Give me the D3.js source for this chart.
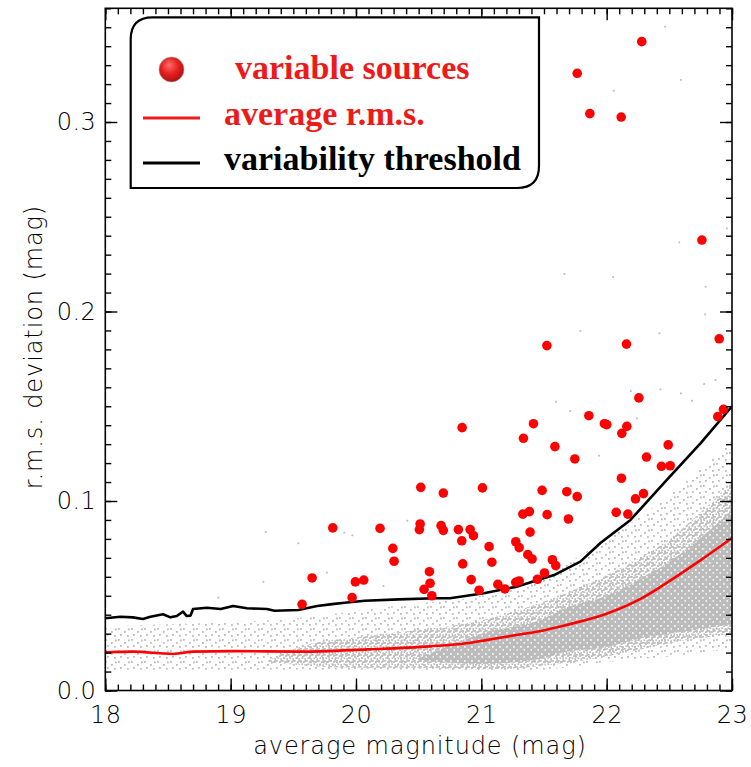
<!DOCTYPE html>
<html>
<head>
<meta charset="utf-8">
<script src="https://cdn.jsdelivr.net/npm/d3@7"></script>
<style>
  body { margin: 0; background: #fff; }
  .tick text { font-family: "DejaVu Sans", sans-serif; font-weight: 200; font-size: 24px; fill: #000; letter-spacing: 0.5px; }
  .lab { font-family: "DejaVu Sans", sans-serif; font-weight: 200; font-size: 24px; letter-spacing: 0.9px; }
</style>
</head>
<body>
<svg id="chart" width="751" height="767"></svg>
<script>
// variable sources (magnitude, rms)
var varMag = [22.28, 21.765, 21.866, 22.116, 22.76, 21.523, 22.158, 22.898, 22.257, 21.858,
  21.416, 21.982, 22.001, 22.161, 22.121, 21.336, 21.587, 22.491, 22.887, 22.932,
  20.847, 21.746, 22.318, 22.437, 22.507, 22.118, 20.517, 20.697, 21.009, 21.485,
  21.682, 21.765, 22.294, 22.23, 21.331, 21.384, 21.525, 21.695, 22.076, 22.169,
  20.512, 20.506, 20.679, 20.697, 20.817, 20.911, 20.937, 20.844, 21.389, 21.062,
  21.275, 21.302, 21.371, 21.405, 21.084, 20.852, 21.567, 21.594, 20.586, 20.591,
  20.543, 20.605, 20.919, 20.982, 21.132, 21.188, 21.275, 21.302, 21.448, 21.504,
  19.815, 20.192, 20.294, 20.304, 19.65, 19.995, 20.062, 19.969, 19.57];
var varRms = [0.3424, 0.3257, 0.3044, 0.3026, 0.2377, 0.182, 0.1828, 0.1856, 0.1544, 0.145,
  0.1408, 0.1408, 0.1403, 0.1394, 0.1357, 0.1331, 0.1287, 0.1296, 0.1445, 0.1484,
  0.1387, 0.1222, 0.1232, 0.1183, 0.1186, 0.112, 0.1072, 0.1042, 0.1069, 0.1056,
  0.1049, 0.1023, 0.1039, 0.1011, 0.0931, 0.0944, 0.0928, 0.0905, 0.094, 0.0931,
  0.0879, 0.0849, 0.087, 0.0845, 0.0849, 0.0849, 0.0817, 0.079, 0.0836, 0.0759,
  0.0785, 0.0754, 0.0717, 0.0694, 0.0677, 0.0668, 0.069, 0.0659, 0.0627, 0.0566,
  0.0534, 0.05, 0.0585, 0.0529, 0.056, 0.0536, 0.0571, 0.0578, 0.0587, 0.062,
  0.0858, 0.0856, 0.075, 0.0682, 0.0594, 0.0573, 0.0583, 0.049, 0.0455];

// average r.m.s. curve
var avgMag = [18.0, 18.22, 18.54, 18.7, 19.02, 19.55, 20.09, 20.59, 20.88, 21.04, 21.28,
  21.44, 21.68, 22.0, 22.27, 22.5, 22.75, 23.0];
var avgRms = [0.0202, 0.0205, 0.0193, 0.0205, 0.0208, 0.0205, 0.0217, 0.0233, 0.0249, 0.0266, 0.0293,
  0.031, 0.0346, 0.0405, 0.0483, 0.0577, 0.0688, 0.0805];

// variability threshold curve
var thrMag = [18.0, 18.12, 18.22, 18.3, 18.36, 18.46, 18.52, 18.57, 18.62, 18.65, 18.68, 18.7,
  18.81, 18.92, 19.02, 19.13, 19.29, 19.35, 19.54, 19.69, 19.81, 19.91, 20.07, 20.34,
  20.63, 20.75, 21.02, 21.28, 21.58, 21.79, 21.95, 22.19, 22.48, 22.75, 23.0];
var thrRms = [0.0381, 0.0389, 0.0386, 0.0377, 0.0389, 0.0402, 0.0386, 0.0393, 0.0416, 0.0393, 0.0395, 0.043,
  0.0437, 0.043, 0.0446, 0.0434, 0.043, 0.0421, 0.0425, 0.0446, 0.0456, 0.0463, 0.0474, 0.0481,
  0.0487, 0.0487, 0.0513, 0.0548, 0.0609, 0.068, 0.0778, 0.09, 0.1111, 0.1305, 0.15];

// spread of all sources, read as envelopes of the grey cloud
var haloMag = [18, 18.5, 19, 19.5, 20, 20.5, 21, 21.5, 22, 22.5, 23];
var haloLow = [0.011, 0.011, 0.011, 0.011, 0.011, 0.011, 0.010, 0.011, 0.015, 0.018, 0.022];
var haloHigh = [0.034, 0.035, 0.036, 0.038, 0.042, 0.046, 0.050, 0.061, 0.080, 0.103, 0.132];
var coreMag = [19.3, 19.6, 20, 20.5, 21, 21.5, 22, 22.5, 23];
var coreLow = [0.015, 0.013, 0.012, 0.012, 0.011, 0.013, 0.018, 0.025, 0.030];
var coreHigh = [0.016, 0.024, 0.028, 0.032, 0.037, 0.047, 0.061, 0.080, 0.110];
var innerMag = [20.5, 21, 21.5, 21.65, 22, 22.3, 22.5, 23];
var innerLow = [0.016, 0.014, 0.017, 0.020, 0.023, 0.028, 0.030, 0.035];
var innerHigh = [0.017, 0.030, 0.038, 0.043, 0.050, 0.060, 0.068, 0.095];

// isolated grey sources
var outMag = [22.467, 22.592, 22.057, 22.946, 22.959, 22.579, 21.663, 22.052, 22.789, 22.786,
  21.791, 22.421, 21.597, 22.429, 19.28, 19.54, 19.907, 19.971, 19.767, 20.41,
  20.219, 19.261, 18.902, 22.193, 22.778, 22.868, 21.709, 21.938, 22.241, 22.68, 22.592];
var outRms = [0.3503, 0.3222, 0.3165, 0.2896, 0.2439, 0.2365, 0.2198, 0.2181, 0.2131, 0.1985,
  0.1897, 0.1885, 0.1524, 0.1589, 0.0836, 0.0777, 0.0833, 0.0819, 0.0622, 0.0896,
  0.0551, 0.0574, 0.049, 0.158, 0.1617, 0.1639, 0.1475, 0.1239, 0.1436, 0.1529, 0.1568];

var xTicks = [18, 19, 20, 21, 22, 23];
var yTicks = [0.0, 0.1, 0.2, 0.3];
var legendLabels = ["variable sources", "average r.m.s.", "variability threshold"];

var pLeft = 105.3, pRight = 732, pTop = 8.3, pBottom = 690.5;
var grey = "#bcbcbc";

var x = d3.scaleLinear().domain([18, 23]).range([pLeft, pRight]);
var y = d3.scaleLinear().domain([0, 0.36]).range([pBottom, pTop]);

var svg = d3.select("#chart");
var defs = svg.append("defs");

defs.append("clipPath").attr("id", "plot")
  .append("rect").attr("x", pLeft).attr("y", pTop)
  .attr("width", pRight - pLeft).attr("height", pBottom - pTop);

// speckle textures for the grey cloud
function dotPattern(id, w, h, pts, bg, dot) {
  var p = defs.append("pattern").attr("id", id)
    .attr("patternUnits", "userSpaceOnUse").attr("width", w).attr("height", h);
  if (bg) p.append("rect").attr("width", w).attr("height", h).attr("fill", bg);
  pts.forEach(function(d) {
    p.append("rect").attr("x", d[0]).attr("y", d[1])
      .attr("width", 1.8).attr("height", 1.8).attr("fill", dot);
  });
}
dotPattern("halo", 13, 11, [[1, 1], [7, 4], [3, 7], [10, 8], [11, 1.5]], null, grey);
dotPattern("core", 6, 6, [[0, 0], [3, 1.2], [1.4, 3.3], [4.4, 4.2], [4.2, 0.2]], null, grey);
dotPattern("inner", 7, 7, [[2, 2], [5.5, 5]], grey, "#f2f2f2");

var g = svg.append("g").attr("clip-path", "url(#plot)");

function band(mag, lo, hi, fill) {
  var rows = mag.map(function(m, i) { return [m, lo[i], hi[i]]; });
  g.append("path").datum(rows)
    .attr("fill", fill)
    .attr("d", d3.area()
      .curve(d3.curveMonotoneX)
      .x(function(d) { return x(d[0]); })
      .y0(function(d) { return y(d[1]); })
      .y1(function(d) { return y(d[2]); }));
}
band(haloMag, haloLow, haloHigh, "url(#halo)");
band(coreMag, coreLow, coreHigh, "url(#core)");
band(innerMag, innerLow, innerHigh, "url(#inner)");

g.selectAll("rect.out")
  .data(outMag)
  .enter()
  .append("rect")
  .attr("class", "out")
  .attr("x", function(d) { return x(d) - 0.9; })
  .attr("y", function(d, i) { return y(outRms[i]) - 0.9; })
  .attr("width", 1.8)
  .attr("height", 1.8)
  .attr("fill", grey);

var line = d3.line()
  .x(function(d) { return x(d[0]); })
  .y(function(d) { return y(d[1]); });

g.append("path")
  .datum(avgMag.map(function(m, i) { return [m, avgRms[i]]; }))
  .attr("fill", "none").attr("stroke", "#ff0000").attr("stroke-width", 2.6)
  .attr("d", line.curve(d3.curveMonotoneX));

g.append("path")
  .datum(thrMag.map(function(m, i) { return [m, thrRms[i]]; }))
  .attr("fill", "none").attr("stroke", "#000").attr("stroke-width", 2.6)
  .attr("stroke-linejoin", "round")
  .attr("d", line.curve(d3.curveLinear));

g.selectAll("circle.var")
  .data(varMag)
  .enter()
  .append("circle")
  .attr("class", "var")
  .attr("cx", function(d) { return x(d); })
  .attr("cy", function(d, i) { return y(varRms[i]); })
  .attr("r", 4.8)
  .attr("fill", "#ff0000");

// axes, all ticks pointing inwards
function minor(from, to, step) {
  var out = [];
  for (var v = from; v <= to + 1e-9; v += step) out.push(+v.toFixed(3));
  return out;
}
var xMinor = minor(18, 23, 0.1);
var yMinor = minor(0, 0.36, 0.01);

function addAxis(axis, tr) {
  var a = svg.append("g").attr("transform", tr).call(axis);
  a.select(".domain").remove();
  a.selectAll(".tick line").attr("stroke", "#000").attr("stroke-width", 1.4);
  return a;
}

addAxis(d3.axisBottom(x).tickValues(xMinor).tickSize(-6).tickFormat(""), "translate(0," + pBottom + ")");
addAxis(d3.axisBottom(x).tickValues(xTicks).tickSize(-12).tickPadding(15).tickFormat(d3.format("d")), "translate(0," + pBottom + ")");
addAxis(d3.axisTop(x).tickValues(xMinor).tickSize(-6).tickFormat(""), "translate(0," + pTop + ")");
addAxis(d3.axisTop(x).tickValues(xTicks).tickSize(-12).tickFormat(""), "translate(0," + pTop + ")");
addAxis(d3.axisLeft(y).tickValues(yMinor).tickSize(-6).tickFormat(""), "translate(" + pLeft + ",0)");
addAxis(d3.axisLeft(y).tickValues(yTicks).tickSize(-12).tickPadding(9).tickFormat(d3.format(".1f")), "translate(" + pLeft + ",0)");
addAxis(d3.axisRight(y).tickValues(yMinor).tickSize(-6).tickFormat(""), "translate(" + pRight + ",0)");
addAxis(d3.axisRight(y).tickValues(yTicks).tickSize(-12).tickFormat(""), "translate(" + pRight + ",0)");

svg.append("rect")
  .attr("x", pLeft).attr("y", pTop)
  .attr("width", pRight - pLeft).attr("height", pBottom - pTop)
  .attr("fill", "none").attr("stroke", "#000").attr("stroke-width", 1.6);

svg.append("text")
  .attr("class", "lab")
  .attr("x", 420).attr("y", 754)
  .attr("text-anchor", "middle")
  .text("average magnitude (mag)");

svg.append("text")
  .attr("class", "lab")
  .attr("transform", "translate(42,347) rotate(-90)")
  .attr("text-anchor", "middle")
  .text("r.m.s. deviation (mag)");

// legend
var lg = defs.append("radialGradient").attr("id", "ball")
  .attr("cx", "45%").attr("cy", "40%").attr("r", "60%").attr("fx", "40%").attr("fy", "30%");
lg.append("stop").attr("offset", "0%").attr("stop-color", "#ff7070");
lg.append("stop").attr("offset", "55%").attr("stop-color", "#e82020");
lg.append("stop").attr("offset", "100%").attr("stop-color", "#b01010");

var bx0 = 130.7, by0 = 17.3, bx1 = 539, by1 = 188, rr = 22;
svg.append("path")
  .attr("d", "M" + bx0 + "," + by1 + "V" + (by0 + rr) + "Q" + bx0 + "," + by0 + " " + (bx0 + rr) + "," + by0 +
    "H" + bx1 + "V" + (by1 - rr) + "Q" + bx1 + "," + by1 + " " + (bx1 - rr) + "," + by1 + "Z")
  .attr("fill", "#fff").attr("stroke", "#000").attr("stroke-width", 2.2);

svg.append("circle").attr("cx", 171.5).attr("cy", 69.5).attr("r", 12.5)
  .attr("fill", "url(#ball)").attr("stroke", "#a0a0a0").attr("stroke-width", 0.6);
svg.append("line").attr("x1", 143).attr("x2", 200).attr("y1", 118).attr("y2", 118)
  .attr("stroke", "#ee1c1c").attr("stroke-width", 3);
svg.append("line").attr("x1", 143).attr("x2", 200).attr("y1", 163).attr("y2", 163)
  .attr("stroke", "#000").attr("stroke-width", 3);

var legendPos = [[235, 79, "#ee1a1a"], [224, 125, "#ee1a1a"], [224, 170, "#000"]];
svg.selectAll("text.leg")
  .data(legendLabels)
  .enter()
  .append("text")
  .attr("class", "leg")
  .attr("x", function(d, i) { return legendPos[i][0]; })
  .attr("y", function(d, i) { return legendPos[i][1]; })
  .attr("fill", function(d, i) { return legendPos[i][2]; })
  .style("font-family", "Liberation Serif, serif").style("font-weight", "bold").style("font-size", "34px")
  .text(function(d) { return d; });
</script>
</body>
</html>
